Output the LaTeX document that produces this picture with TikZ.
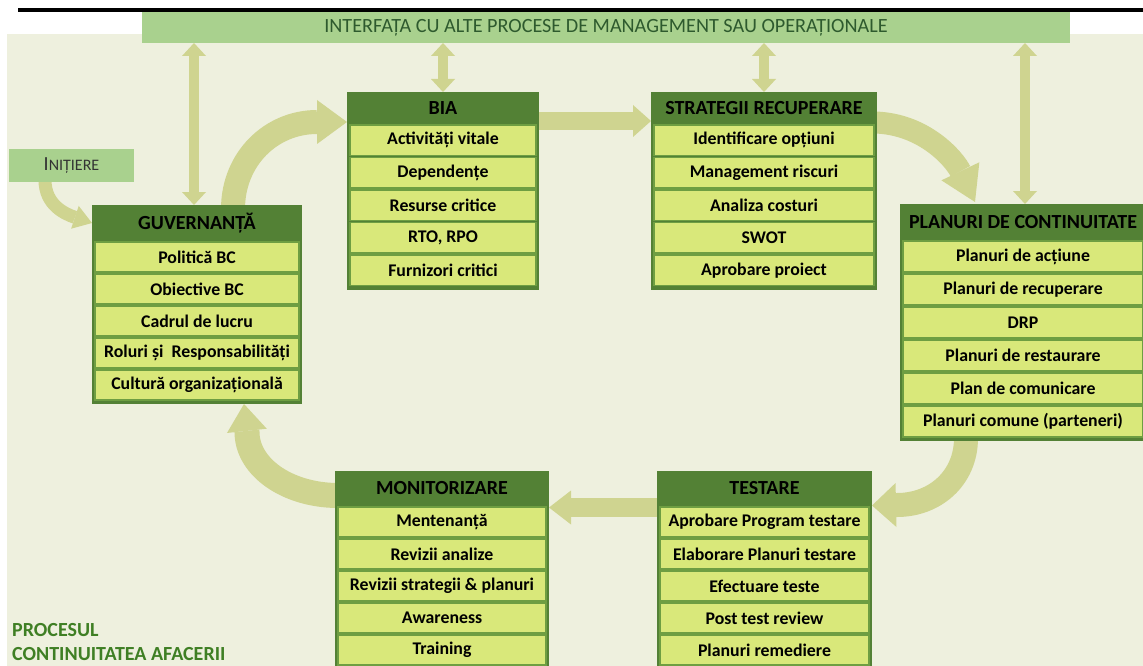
\documentclass[tikz,border=0pt]{standalone}
\usepackage{fontspec}
\setmainfont{Carlito}
\usetikzlibrary{arrows.meta}
\pgfdeclarelayer{bglayer}
\pgfdeclarelayer{arrlayer}
\pgfsetlayers{bglayer,arrlayer,main}
\definecolor{bgc}{HTML}{EEF0DE}
\definecolor{barc}{HTML}{A9D18E}
\definecolor{arrc}{HTML}{CFD490}
\definecolor{hdrc}{HTML}{538135}
\definecolor{rowc}{HTML}{D9E87A}
\definecolor{rowline}{HTML}{6E9E42}
\definecolor{bartext}{HTML}{2E5A2E}
\definecolor{titlec}{HTML}{3F7F24}
\definecolor{initc}{HTML}{333333}
\tikzset{
  frame/.style={fill=hdrc, inner sep=0pt, outer sep=0pt, anchor=north west},
  hdrbox/.style={inner sep=0pt, outer sep=0pt, anchor=north, font=\bfseries\fontsize{20}{22}\selectfont, text=black},
  rowbox/.style={fill=rowc, draw=rowline, line width=1.2pt, inner sep=0pt, outer sep=0pt, font=\bfseries\fontsize{17.8}{19}\selectfont, text=black},
  flow/.style={draw=arrc, line cap=butt},
  dbl/.style={draw=arrc, line width=10pt, {Triangle[width=24pt,length=13pt,line width=0pt]}-{Triangle[width=24pt,length=13pt,line width=0pt]}},
}
\newcommand\pbox[9]{%
  \pgfmathsetmacro\bw{#3-#2}%
  \pgfmathsetmacro\bcx{(#2+#3)/2}%
  \pgfmathsetmacro\bh{#5+#6*#7+3}%
  \node[frame, minimum width=\bw pt, minimum height=\bh pt] (#1) at (#2,#4) {};
  \node[hdrbox, minimum width=\bw pt, minimum height=#5 pt] (#1-h) at (\bcx,#4) {#8};
  \foreach \t [count=\i] in {#9} {%
    \node[rowbox, minimum width=\bw pt-6pt, minimum height=#6 pt-2pt] (#1-\i) at (\bcx,#4+#5+\i*#6-#6/2) {\t};
  }%
}
\begin{document}
\begin{tikzpicture}[x=1pt,y=-1pt]
\useasboundingbox (0,0) rectangle (1143,666);
\begin{pgfonlayer}{bglayer}
  \fill[bgc] (7,34) rectangle (1143,666);
  \fill[black] (18,8) rectangle (1143,12);
\end{pgfonlayer}
\node[fill=barc, minimum width=928pt, minimum height=31pt, inner sep=0pt, outer sep=0pt, anchor=north west, font=\fontsize{20.2}{22}\selectfont, text=bartext] (iface) at (142,12) {INTERFAȚA CU ALTE PROCESE DE MANAGEMENT SAU OPERAȚIONALE};
\node[fill=barc, minimum width=125pt, minimum height=33pt, inner sep=0pt, outer sep=0pt, anchor=north west, text=initc] (init) at (9,149) {\fontsize{20}{22}\selectfont I\fontsize{16}{18}\selectfont NIȚIERE};
\node[anchor=west, align=left, inner sep=0pt, text=titlec, font=\bfseries\fontsize{20}{24}\selectfont] (title) at (12,642) {PROCESUL\\CONTINUITATEA AFACERII};

\pbox{guv}{92}{302}{205}{36}{32}{5}{GUVERNANȚĂ}{Politică BC, Obiective BC, Cadrul de lucru, Roluri și\ \ Responsabilități, Cultură organizațională}
\pbox{bia}{347}{539}{92}{32}{32.5}{5}{BIA}{Activități vitale, Dependențe, Resurse critice, {RTO, RPO}, Furnizori critici}
\pbox{str}{651}{877}{92}{32}{32.5}{5}{STRATEGII RECUPERARE}{Identificare opțiuni, Management riscuri, Analiza costuri, SWOT, Aprobare proiect}
\pbox{plan}{900}{1146}{204}{36}{33}{6}{PLANURI DE CONTINUITATE}{Planuri de acțiune, Planuri de recuperare, DRP, Planuri de restaurare, Plan de comunicare, Planuri comune (parteneri)}
\pbox{mon}{335}{549}{471}{35}{32}{5}{MONITORIZARE}{Mentenanță, Revizii analize, Revizii strategii \& planuri, Awareness, Training}
\pbox{test}{657}{872}{471}{35}{32}{5}{TESTARE}{Aprobare Program testare, Elaborare Planuri testare, Efectuare teste, Post test review, Planuri remediere}

\begin{pgfonlayer}{arrlayer}
  % double arrows to interface
  \draw[dbl] ([xshift=-3pt]guv.north) -- ([xshift=-3pt]guv.north |- iface.south);
  \draw[dbl] (bia.north) -- (bia.north |- iface.south);
  \draw[dbl] (str.north) -- (str.north |- iface.south);
  \draw[dbl] ([xshift=2pt]plan.north) -- ([xshift=2pt]plan.north |- iface.south);
  % cycle arrows
  \draw[flow, line width=24pt, -{Triangle[width=44pt,length=30pt,line width=0pt]}]
    ([xshift=36pt,yshift=-4pt]guv.north) .. controls (233,159) and (271,122) .. (317,122) -- ([yshift=-14pt]bia-h.west);
  \draw[flow, line width=18pt, -{Triangle[width=32pt,length=18pt,line width=0pt]}]
    ([yshift=-13pt]bia-h.east) -- ([yshift=-13pt]str-h.west);
  \draw[flow, line width=22pt, -{Triangle[width=42pt,length=34pt,line width=0pt]}]
    ([xshift=-2pt,yshift=-14.5pt]str-h.east) .. controls (925,124) and (955,160) .. ([xshift=-48pt,yshift=2pt]plan.north);
  \draw[flow, line width=24pt, -{Triangle[width=44pt,length=24pt,line width=0pt]}]
    ([xshift=-57pt,yshift=3pt]plan.south) .. controls (966,478) and (935,505) .. (897,505) -- ([yshift=-17pt]test-h.east);
  \draw[flow, line width=19pt, -{Triangle[width=34pt,length=22pt,line width=0pt]}]
    ([yshift=-19pt]test-h.west) -- ([yshift=-19pt]mon-h.east);
  \draw[flow, line width=25pt, -{Triangle[width=40pt,length=27pt,line width=0pt]}]
    ([xshift=2pt,yshift=-7pt]mon-h.west) .. controls (287,495) and (247,467) .. (247,432) -- ([xshift=47pt]guv.south);
  \draw[flow, line width=13pt, -{Triangle[width=24pt,length=18pt,line width=0pt]}]
    ([xshift=-26.5pt,yshift=2pt]init.south) .. controls (45,205) and (65,214) .. (guv-h.west);
\end{pgfonlayer}
\end{tikzpicture}
\end{document}
